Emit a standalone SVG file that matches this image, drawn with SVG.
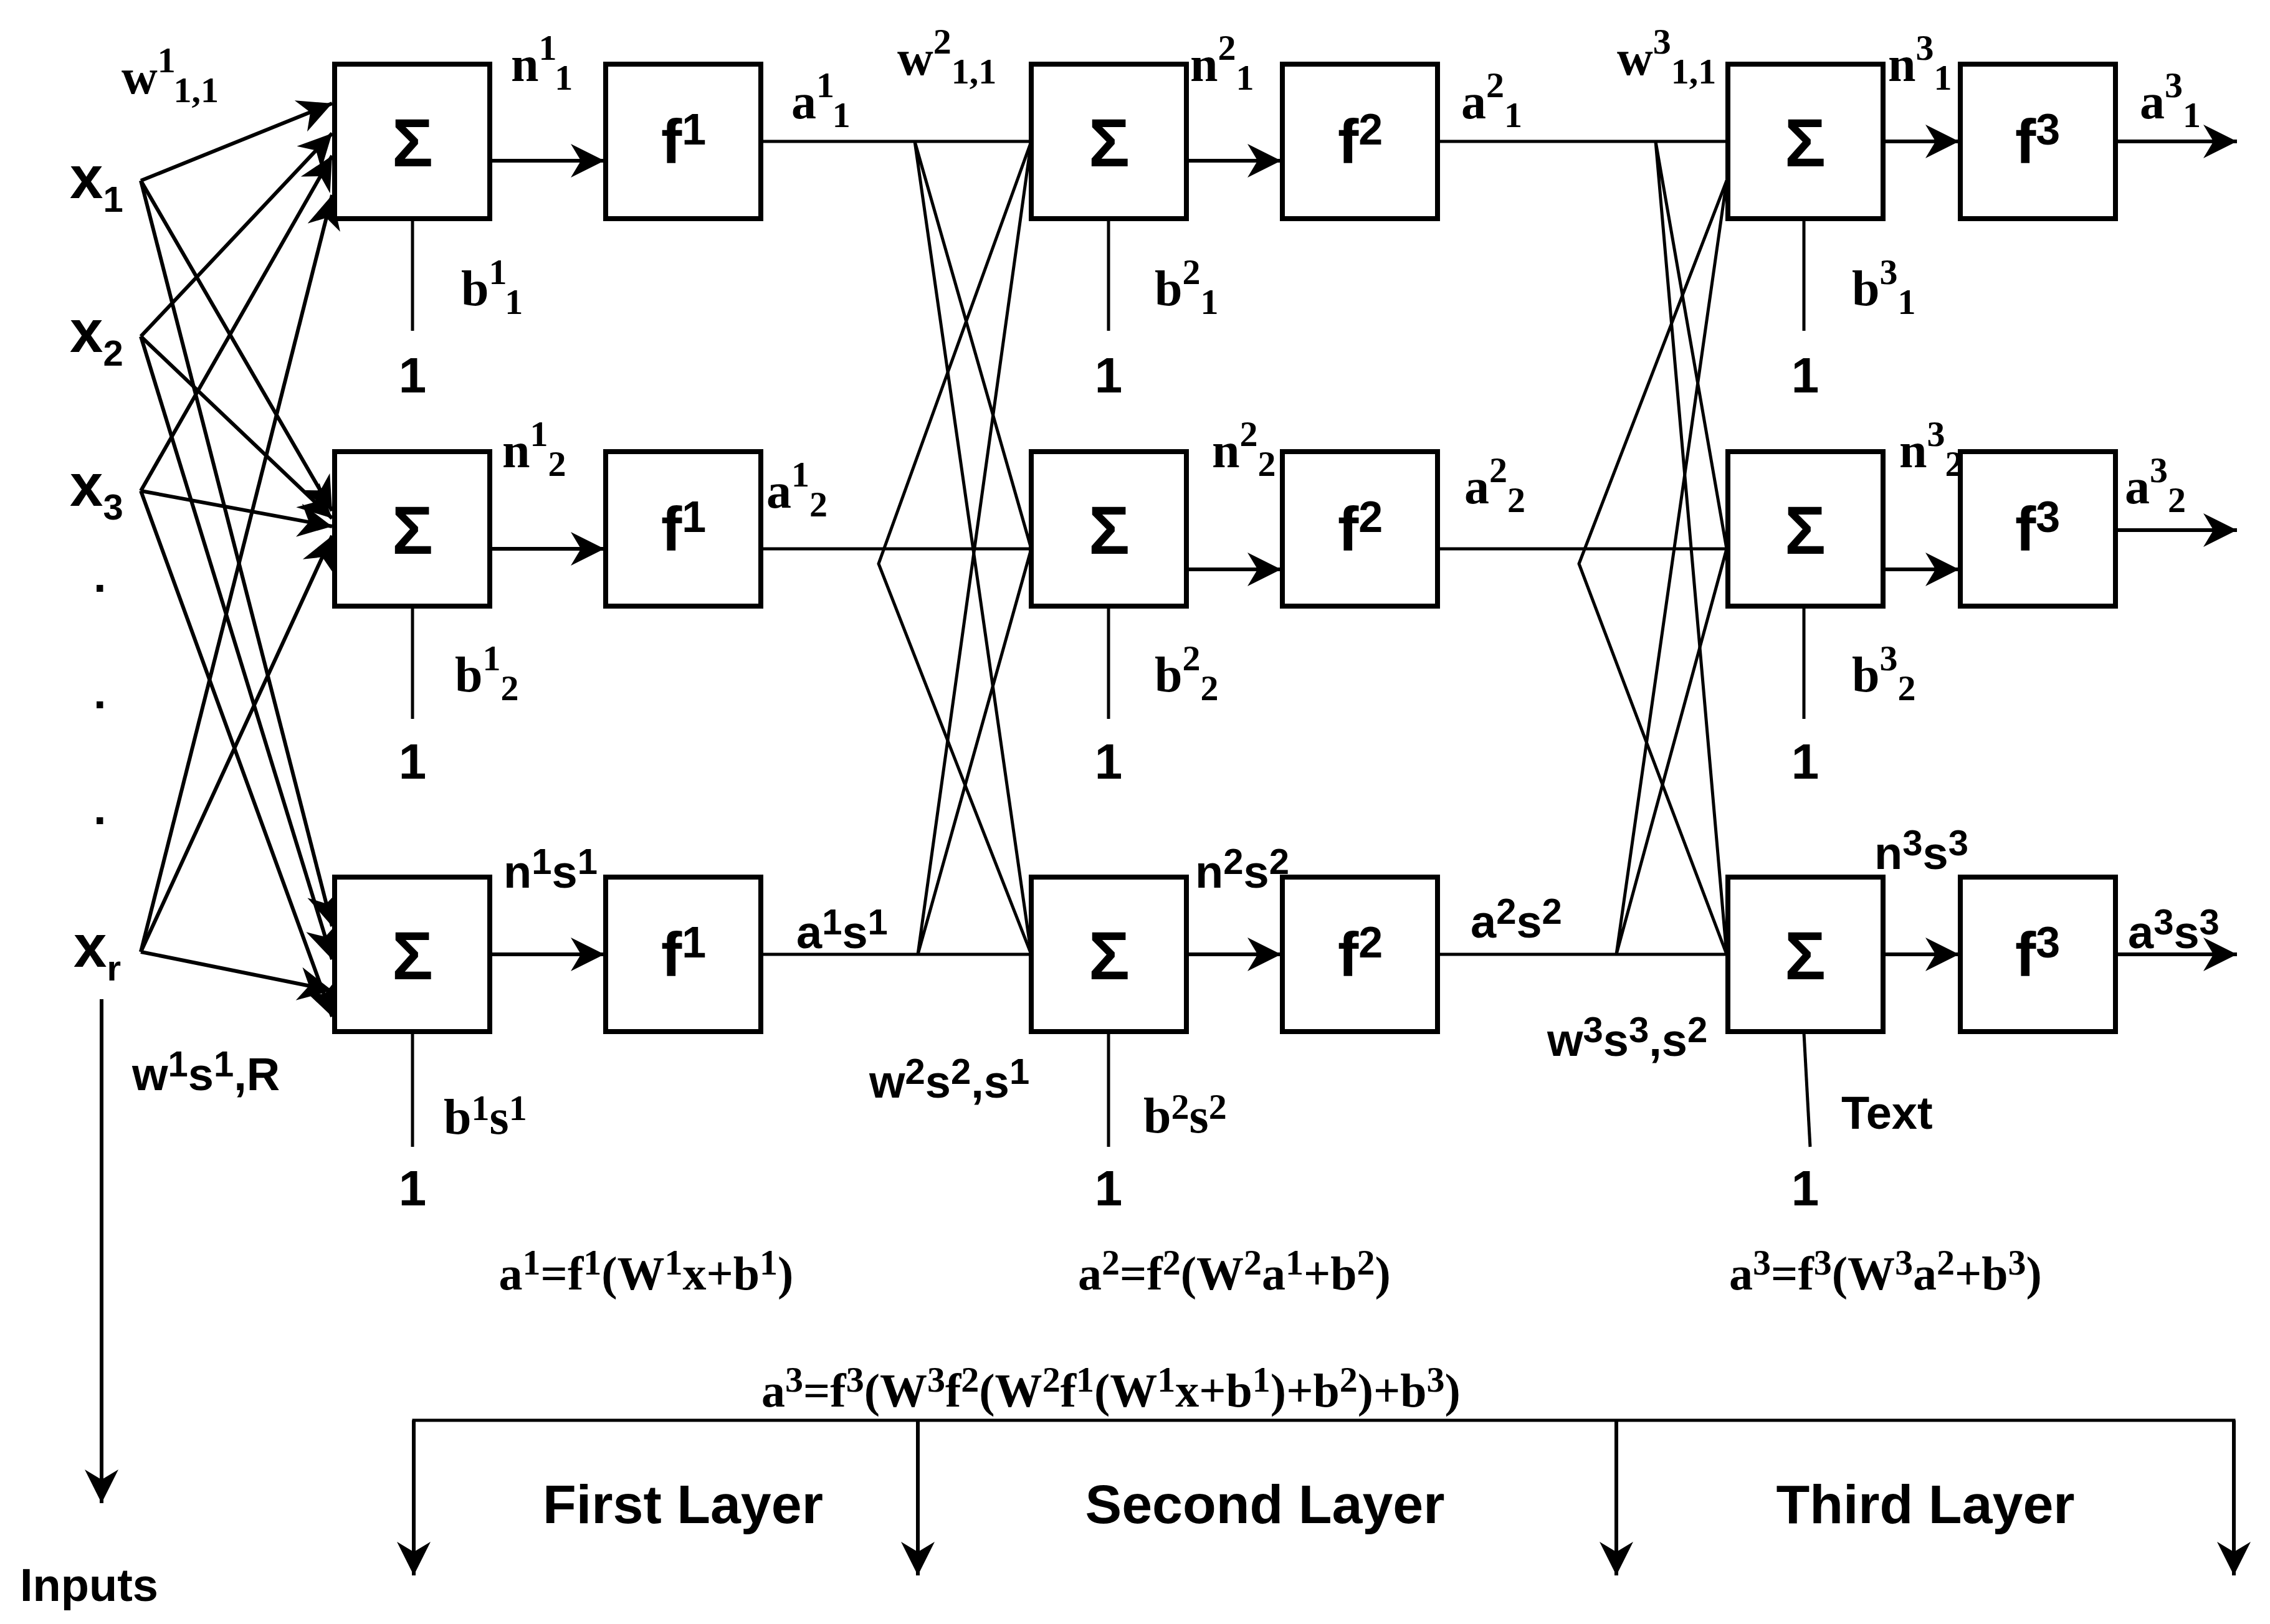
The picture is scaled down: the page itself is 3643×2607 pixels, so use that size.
<svg xmlns="http://www.w3.org/2000/svg" width="3643" height="2607" viewBox="0 0 3643 2607">
<style>
.box{fill:#fff;stroke:#000;stroke-width:8}
.ln{stroke:#000;stroke-width:5;fill:none}
.ar{stroke:#000;stroke-width:6;fill:none;marker-end:url(#ah)}
.sig{font-family:"Liberation Sans",sans-serif;font-weight:bold;font-size:110px;text-anchor:middle}
.fn{font-family:"Liberation Sans",sans-serif;font-weight:bold;font-size:100px;text-anchor:middle}
.sb{font-family:"Liberation Sans",sans-serif;font-weight:bold;font-size:74px}
.se{font-family:"Liberation Serif",serif;font-weight:bold;font-size:80px}
.eq{font-family:"Liberation Serif",serif;font-weight:bold;font-size:76px;text-anchor:middle}
.one{font-family:"Liberation Sans",sans-serif;font-weight:bold;font-size:80px;text-anchor:middle}
.lay{font-family:"Liberation Sans",sans-serif;font-weight:bold;font-size:88px;text-anchor:middle}
.s{font-size:58px}
.xs{font-family:"Liberation Sans",sans-serif;font-weight:bold;font-size:96px}
</style>
<defs>
<marker id="ah" viewBox="0 0 10 10" refX="10" refY="5" markerWidth="60" markerHeight="54" markerUnits="userSpaceOnUse" orient="auto">
<path d="M0,0 L10,5 L0,10 L3,5 z" fill="#000"/>
</marker>
</defs>
<g id="connectors">
<line class="ar" x1="226" y1="290" x2="533" y2="166"/>
<line class="ar" x1="226" y1="540" x2="533" y2="214"/>
<line class="ar" x1="226" y1="788" x2="533" y2="250"/>
<line class="ar" x1="226" y1="1528" x2="533" y2="313"/>
<line class="ar" x1="226" y1="290" x2="533" y2="820"/>
<line class="ar" x1="226" y1="540" x2="533" y2="832"/>
<line class="ar" x1="226" y1="788" x2="533" y2="845"/>
<line class="ar" x1="226" y1="1528" x2="533" y2="860"/>
<line class="ar" x1="226" y1="290" x2="533" y2="1487"/>
<line class="ar" x1="226" y1="540" x2="533" y2="1540"/>
<line class="ar" x1="226" y1="788" x2="533" y2="1632"/>
<line class="ar" x1="226" y1="1528" x2="533" y2="1590"/>
<line class="ar" x1="163" y1="1604" x2="163" y2="2413"/>
<line class="ar" x1="790" y1="258" x2="970" y2="258"/>
<line class="ar" x1="790" y1="881" x2="970" y2="881"/>
<line class="ar" x1="790" y1="1532" x2="970" y2="1532"/>
<line class="ln" x1="662" y1="355" x2="662" y2="531"/>
<line class="ln" x1="662" y1="976" x2="662" y2="1154"/>
<line class="ln" x1="662" y1="1658" x2="662" y2="1841"/>
<line class="ln" x1="1224" y1="227" x2="1655" y2="227"/>
<line class="ln" x1="1224" y1="881" x2="1655" y2="881"/>
<line class="ln" x1="1224" y1="1532" x2="1655" y2="1532"/>
<polyline class="ln" points="1655,881 1468,227 1655,1532"/>
<polyline class="ln" points="1655,227 1410,905 1655,1532"/>
<polyline class="ln" points="1655,227 1473,1532 1655,881"/>
<line class="ar" x1="1907" y1="258" x2="2056" y2="258"/>
<line class="ar" x1="1907" y1="914" x2="2056" y2="914"/>
<line class="ar" x1="1907" y1="1532" x2="2056" y2="1532"/>
<line class="ln" x1="1779" y1="355" x2="1779" y2="531"/>
<line class="ln" x1="1779" y1="976" x2="1779" y2="1154"/>
<line class="ln" x1="1779" y1="1658" x2="1779" y2="1841"/>
<line class="ln" x1="2310" y1="227" x2="2771" y2="227"/>
<line class="ln" x1="2310" y1="881" x2="2771" y2="881"/>
<line class="ln" x1="2310" y1="1532" x2="2771" y2="1532"/>
<polyline class="ln" points="2771,881 2657,227 2771,1532"/>
<polyline class="ln" points="2771,290 2534,905 2771,1532"/>
<polyline class="ln" points="2771,290 2594,1532 2771,881"/>
<line class="ar" x1="3023" y1="227" x2="3144" y2="227"/>
<line class="ar" x1="3023" y1="914" x2="3144" y2="914"/>
<line class="ar" x1="3023" y1="1532" x2="3144" y2="1532"/>
<line class="ln" x1="2895" y1="355" x2="2895" y2="531"/>
<line class="ln" x1="2895" y1="976" x2="2895" y2="1154"/>
<line class="ln" x1="2895" y1="1658" x2="2905" y2="1841"/>
<line class="ar" x1="3397" y1="227" x2="3590" y2="227"/>
<line class="ar" x1="3397" y1="851" x2="3590" y2="851"/>
<line class="ar" x1="3397" y1="1532" x2="3590" y2="1532"/>
<polyline class="ln" points="664,2420 664,2280 3585,2280 3585,2420"/>
<line class="ar" x1="664" y1="2280" x2="664" y2="2529"/>
<line class="ar" x1="1473" y1="2280" x2="1473" y2="2529"/>
<line class="ar" x1="2594" y1="2280" x2="2594" y2="2529"/>
<line class="ar" x1="3585" y1="2280" x2="3585" y2="2529"/>
</g>
<g id="inputs">
<text class="xs" x="112" y="318">x<tspan class="s" font-size="70" dy="22">1</tspan></text>
<text class="xs" x="112" y="565">x<tspan class="s" font-size="70" dy="22">2</tspan></text>
<text class="xs" x="112" y="812">x<tspan class="s" font-size="70" dy="22">3</tspan></text>
<text class="sb" x="150" y="950">.</text>
<text class="sb" x="150" y="1137">.</text>
<text class="sb" x="150" y="1323">.</text>
<text class="xs" x="118" y="1552">x<tspan class="s" font-size="70" dy="22">r</tspan></text>
<text class="sb" font-size="86" x="32" y="2570">Inputs</text>
</g>
<g id="L1">
<rect class="box" x="537" y="103" width="249" height="248"/><text class="sig" x="662" y="267">Σ</text>
<rect class="box" x="972" y="103" width="249" height="248"/><text class="fn" x="1097" y="262">f<tspan font-size="70" dy="-30">1</tspan></text>
<rect class="box" x="537" y="725" width="249" height="248"/><text class="sig" x="662" y="889">Σ</text>
<rect class="box" x="972" y="725" width="249" height="248"/><text class="fn" x="1097" y="884">f<tspan font-size="70" dy="-30">1</tspan></text>
<rect class="box" x="537" y="1408" width="249" height="248"/><text class="sig" x="662" y="1572">Σ</text>
<rect class="box" x="972" y="1408" width="249" height="248"/><text class="fn" x="1097" y="1567">f<tspan font-size="70" dy="-30">1</tspan></text>
<text class="one" x="662" y="630">1</text><text class="one" x="662" y="1250">1</text><text class="one" x="662" y="1935">1</text>
</g>
<g id="L2">
<rect class="box" x="1655" y="103" width="249" height="248"/><text class="sig" x="1780" y="267">Σ</text>
<rect class="box" x="2058" y="103" width="249" height="248"/><text class="fn" x="2183" y="262">f<tspan font-size="70" dy="-30">2</tspan></text>
<rect class="box" x="1655" y="725" width="249" height="248"/><text class="sig" x="1780" y="889">Σ</text>
<rect class="box" x="2058" y="725" width="249" height="248"/><text class="fn" x="2183" y="884">f<tspan font-size="70" dy="-30">2</tspan></text>
<rect class="box" x="1655" y="1408" width="249" height="248"/><text class="sig" x="1780" y="1572">Σ</text>
<rect class="box" x="2058" y="1408" width="249" height="248"/><text class="fn" x="2183" y="1567">f<tspan font-size="70" dy="-30">2</tspan></text>
<text class="one" x="1779" y="630">1</text><text class="one" x="1779" y="1250">1</text><text class="one" x="1779" y="1935">1</text>
</g>
<g id="L3">
<rect class="box" x="2773" y="103" width="249" height="248"/><text class="sig" x="2897" y="267">Σ</text>
<rect class="box" x="3146" y="103" width="249" height="248"/><text class="fn" x="3270" y="262">f<tspan font-size="70" dy="-30">3</tspan></text>
<rect class="box" x="2773" y="725" width="249" height="248"/><text class="sig" x="2897" y="889">Σ</text>
<rect class="box" x="3146" y="725" width="249" height="248"/><text class="fn" x="3270" y="884">f<tspan font-size="70" dy="-30">3</tspan></text>
<rect class="box" x="2773" y="1408" width="249" height="248"/><text class="sig" x="2897" y="1572">Σ</text>
<rect class="box" x="3146" y="1408" width="249" height="248"/><text class="fn" x="3270" y="1567">f<tspan font-size="70" dy="-30">3</tspan></text>
<text class="one" x="2897" y="630">1</text><text class="one" x="2897" y="1250">1</text><text class="one" x="2897" y="1935">1</text>
<text class="sb" font-size="72" x="2955" y="1812">Text</text>
</g>
<g id="labels">
<text class="se" x="195" y="150">w<tspan class="s" dy="-34">1</tspan><tspan class="s" dy="48">1,1</tspan></text>
<text class="se" x="820" y="130">n<tspan class="s" dy="-34">1</tspan><tspan class="s" dy="48">1</tspan></text>
<text class="se" x="1270" y="190">a<tspan class="s" dy="-34">1</tspan><tspan class="s" dy="48">1</tspan></text>
<text class="se" x="740" y="490">b<tspan class="s" dy="-34">1</tspan><tspan class="s" dy="48">1</tspan></text>
<text class="se" x="806" y="750">n<tspan class="s" dy="-34">1</tspan><tspan class="s" dy="48">2</tspan></text>
<text class="se" x="1230" y="815">a<tspan class="s" dy="-34">1</tspan><tspan class="s" dy="48">2</tspan></text>
<text class="se" x="730" y="1110">b<tspan class="s" dy="-34">1</tspan><tspan class="s" dy="48">2</tspan></text>
<text class="sb" x="808" y="1425">n<tspan class="s" dy="-22">1</tspan><tspan dy="22">s</tspan><tspan class="s" dy="-22">1</tspan></text>
<text class="sb" x="1278" y="1522">a<tspan class="s" dy="-22">1</tspan><tspan dy="22">s</tspan><tspan class="s" dy="-22">1</tspan></text>
<text class="se" x="712" y="1820">b<tspan class="s" dy="-22">1</tspan><tspan dy="22">s</tspan><tspan class="s" dy="-22">1</tspan></text>
<text class="sb" font-size="70" x="212" y="1750">w<tspan class="s" dy="-22">1</tspan><tspan dy="22">s</tspan><tspan class="s" dy="-22">1</tspan><tspan dy="22">,R</tspan></text>
<text class="se" x="1440" y="120">w<tspan class="s" dy="-34">2</tspan><tspan class="s" dy="48">1,1</tspan></text>
<text class="se" x="1910" y="130">n<tspan class="s" dy="-34">2</tspan><tspan class="s" dy="48">1</tspan></text>
<text class="se" x="2345" y="190">a<tspan class="s" dy="-34">2</tspan><tspan class="s" dy="48">1</tspan></text>
<text class="se" x="1853" y="490">b<tspan class="s" dy="-34">2</tspan><tspan class="s" dy="48">1</tspan></text>
<text class="se" x="1945" y="750">n<tspan class="s" dy="-34">2</tspan><tspan class="s" dy="48">2</tspan></text>
<text class="se" x="2350" y="808">a<tspan class="s" dy="-34">2</tspan><tspan class="s" dy="48">2</tspan></text>
<text class="se" x="1853" y="1110">b<tspan class="s" dy="-34">2</tspan><tspan class="s" dy="48">2</tspan></text>
<text class="sb" x="1918" y="1425">n<tspan class="s" dy="-22">2</tspan><tspan dy="22">s</tspan><tspan class="s" dy="-22">2</tspan></text>
<text class="sb" x="2360" y="1505">a<tspan class="s" dy="-22">2</tspan><tspan dy="22">s</tspan><tspan class="s" dy="-22">2</tspan></text>
<text class="se" x="1835" y="1818">b<tspan class="s" dy="-22">2</tspan><tspan dy="22">s</tspan><tspan class="s" dy="-22">2</tspan></text>
<text class="sb" font-size="70" x="1395" y="1762">w<tspan class="s" dy="-22">2</tspan><tspan dy="22">s</tspan><tspan class="s" dy="-22">2</tspan><tspan dy="22">,s</tspan><tspan class="s" dy="-22">1</tspan></text>
<text class="se" x="2595" y="120">w<tspan class="s" dy="-34">3</tspan><tspan class="s" dy="48">1,1</tspan></text>
<text class="se" x="3030" y="130">n<tspan class="s" dy="-34">3</tspan><tspan class="s" dy="48">1</tspan></text>
<text class="se" x="3434" y="190">a<tspan class="s" dy="-34">3</tspan><tspan class="s" dy="48">1</tspan></text>
<text class="se" x="2972" y="490">b<tspan class="s" dy="-34">3</tspan><tspan class="s" dy="48">1</tspan></text>
<text class="se" x="3048" y="750">n<tspan class="s" dy="-34">3</tspan><tspan class="s" dy="48">2</tspan></text>
<text class="se" x="3410" y="808">a<tspan class="s" dy="-34">3</tspan><tspan class="s" dy="48">2</tspan></text>
<text class="se" x="2972" y="1110">b<tspan class="s" dy="-34">3</tspan><tspan class="s" dy="48">2</tspan></text>
<text class="sb" x="3008" y="1395">n<tspan class="s" dy="-22">3</tspan><tspan dy="22">s</tspan><tspan class="s" dy="-22">3</tspan></text>
<text class="sb" x="3415" y="1522">a<tspan class="s" dy="-22">3</tspan><tspan dy="22">s</tspan><tspan class="s" dy="-22">3</tspan></text>
<text class="sb" font-size="70" x="2483" y="1695">w<tspan class="s" dy="-22">3</tspan><tspan dy="22">s</tspan><tspan class="s" dy="-22">3</tspan><tspan dy="22">,s</tspan><tspan class="s" dy="-22">2</tspan></text>
<text class="eq" x="1037" y="2070">a<tspan class="s" dy="-24">1</tspan><tspan dy="24">=f</tspan><tspan class="s" dy="-24">1</tspan><tspan dy="24">(W</tspan><tspan class="s" dy="-24">1</tspan><tspan dy="24">x+b</tspan><tspan class="s" dy="-24">1</tspan><tspan dy="24">)</tspan></text>
<text class="eq" x="1981" y="2070">a<tspan class="s" dy="-24">2</tspan><tspan dy="24">=f</tspan><tspan class="s" dy="-24">2</tspan><tspan dy="24">(W</tspan><tspan class="s" dy="-24">2</tspan><tspan dy="24">a</tspan><tspan class="s" dy="-24">1</tspan><tspan dy="24">+b</tspan><tspan class="s" dy="-24">2</tspan><tspan dy="24">)</tspan></text>
<text class="eq" x="3026" y="2070">a<tspan class="s" dy="-24">3</tspan><tspan dy="24">=f</tspan><tspan class="s" dy="-24">3</tspan><tspan dy="24">(W</tspan><tspan class="s" dy="-24">3</tspan><tspan dy="24">a</tspan><tspan class="s" dy="-24">2</tspan><tspan dy="24">+b</tspan><tspan class="s" dy="-24">3</tspan><tspan dy="24">)</tspan></text>
<text class="eq" x="1783" y="2258">a<tspan class="s" dy="-24">3</tspan><tspan dy="24">=f</tspan><tspan class="s" dy="-24">3</tspan><tspan dy="24">(W</tspan><tspan class="s" dy="-24">3</tspan><tspan dy="24">f</tspan><tspan class="s" dy="-24">2</tspan><tspan dy="24">(W</tspan><tspan class="s" dy="-24">2</tspan><tspan dy="24">f</tspan><tspan class="s" dy="-24">1</tspan><tspan dy="24">(W</tspan><tspan class="s" dy="-24">1</tspan><tspan dy="24">x+b</tspan><tspan class="s" dy="-24">1</tspan><tspan dy="24">)+b</tspan><tspan class="s" dy="-24">2</tspan><tspan dy="24">)+b</tspan><tspan class="s" dy="-24">3</tspan><tspan dy="24">)</tspan></text>
<text class="lay" x="1096" y="2445">First Layer</text>
<text class="lay" x="2030" y="2445">Second Layer</text>
<text class="lay" x="3090" y="2445">Third Layer</text>
</g>
</svg>
